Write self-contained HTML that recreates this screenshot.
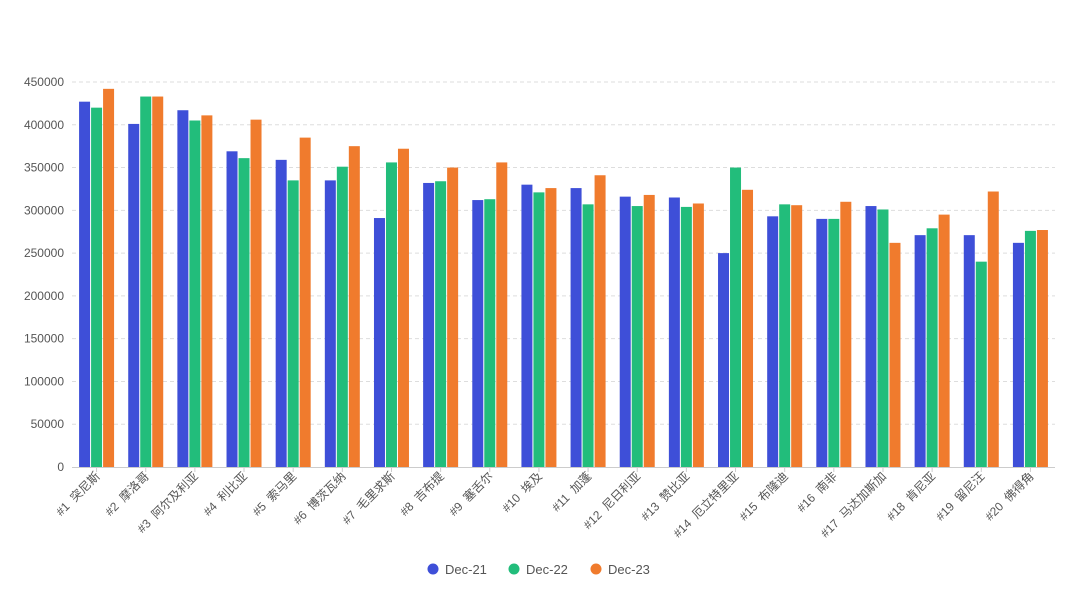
<!DOCTYPE html>
<html><head><meta charset="utf-8"><style>
body{margin:0;background:#fff;}
text{font-family:"Liberation Sans","Noto Sans CJK SC",sans-serif;}
</style></head><body>
<svg id="s" width="1080" height="607" xmlns="http://www.w3.org/2000/svg"></svg>
<script>
const d=[[427,420,442],[401,433,433],[417,405,411],[369,361,406],[359,335,385],[335,351,375],[291,356,372],[332,334,350],[312,313,356],[330,321,326],[326,307,341],[316,305,318],[315,304,308],[250,350,324],[293,307,306],[290,290,310],[305,301,262],[271,279,295],[271,240,322],[262,276,277]];
const n=["突尼斯","摩洛哥","阿尔及利亚","利比亚","索马里","博茨瓦纳","毛里求斯","吉布提","塞舌尔","埃及","加蓬","尼日利亚","赞比亚","厄立特里亚","布隆迪","南非","马达加斯加","肯尼亚","留尼汪","佛得角"];
const c=["#3e4fd8","#22bd7b","#f07b2d"];
let h="";
const Y=v=>467-v*385/450;
for(let k=0;k<=9;k++){const y=Y(k*50);
 if(k>0)h+=`<line x1="72" x2="1055" y1="${y}" y2="${y}" stroke="#ddd" stroke-dasharray="4,3"/>`;
 h+=`<text x="64" y="${y+4}" text-anchor="end" font-size="12" fill="#555">${k*50000}</text>`;}
h+=`<line x1="72" x2="1055" y1="467.5" y2="467.5" stroke="#ccc"/>`;
for(let i=0;i<20;i++){const cx=72+(i+0.5)*49.15;
 for(let j=0;j<3;j++){const x=cx-17.5+j*12,y=Y(d[i][j]);
  h+=`<rect x="${x}" y="${y}" width="11" height="${467-y}" fill="${c[j]}"/>`;}
 h+=`<line x1="${cx}" x2="${cx}" y1="467" y2="472" stroke="#ccc"/>`;
 h+=`<text transform="translate(${cx+4},${477}) rotate(-45)" text-anchor="end" font-size="12" fill="#555">#${i+1}&#160;&#160;${n[i]}</text>`;}
const L=[["Dec-21",433],["Dec-22",514],["Dec-23",596]];
L.forEach((l,j)=>{h+=`<circle cx="${l[1]}" cy="569" r="5.5" fill="${c[j]}"/><text x="${l[1]+12}" y="574" font-size="13" fill="#555">${l[0]}</text>`;});
document.getElementById("s").innerHTML=h;
</script>
</body></html>
